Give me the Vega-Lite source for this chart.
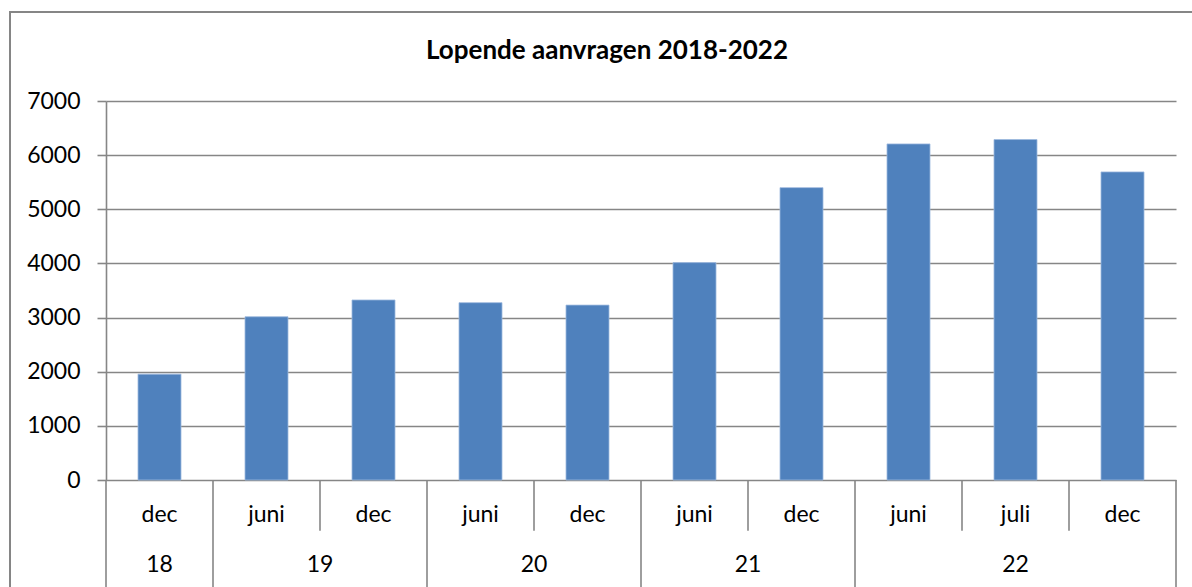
{
  "$schema": "https://vega.github.io/schema/vega-lite/v6.json",
  "autosize": "none",
  "width": 1070,
  "height": 379,
  "padding": {"left": 106, "top": 101, "right": 16, "bottom": 107},
  "background": "white",
  "config": {"view": {"stroke": null}, "font": "Lato"},
  "title": {"text": "Lopende aanvragen 2018-2022", "font": "Lato", "fontWeight": "bold", "fontSize": 26, "color": "#000000", "anchor": "middle", "frame": "group", "dx": -34, "offset": -74, "baseline": "alphabetic"},
  "data": {"values": [
    {"i": 0, "month": "dec", "year": "18", "value": 1955},
    {"i": 1, "month": "juni", "year": "19", "value": 3015},
    {"i": 2, "month": "dec", "year": "19", "value": 3325},
    {"i": 3, "month": "juni", "year": "20", "value": 3275},
    {"i": 4, "month": "dec", "year": "20", "value": 3230},
    {"i": 5, "month": "juni", "year": "21", "value": 4015},
    {"i": 6, "month": "dec", "year": "21", "value": 5400},
    {"i": 7, "month": "juni", "year": "22", "value": 6207},
    {"i": 8, "month": "juli", "year": "22", "value": 6288},
    {"i": 9, "month": "dec", "year": "22", "value": 5690}
  ]},
  "layer": [
    {
      "mark": {"type": "rect", "fill": null, "filled": false, "stroke": "#868686", "strokeWidth": 1.5},
      "encoding": {
        "x": {"datum": -1.397, "type": "quantitative", "scale": {"domain": [-0.5, 9.5], "nice": false, "zero": false, "padding": 0}, "axis": null},
        "x2": {"datum": 9.9},
        "y": {"datum": 8644, "type": "quantitative"},
        "y2": {"datum": -2400}
      }
    },
    {
      "mark": {"type": "bar", "width": 43, "color": "#4F81BD", "stroke": "#9DB9DE", "strokeWidth": 0.8},
      "encoding": {
        "x": {"field": "i", "type": "quantitative", "scale": {"domain": [-0.5, 9.5], "nice": false, "zero": false, "padding": 0}, "axis": null},
        "y": {"field": "value", "type": "quantitative", "scale": {"domain": [0, 7000], "nice": false, "padding": 0}, "axis": {"title": null, "values": [0, 1000, 2000, 3000, 4000, 5000, 6000, 7000], "grid": true, "gridColor": "#868686", "gridWidth": 1.6, "domainColor": "#868686", "domainWidth": 1.6, "tickColor": "#868686", "tickWidth": 1.6, "tickSize": 9, "labelFont": "Lato", "labelFontSize": 23, "labelColor": "#000000", "labelPadding": 17, "format": "d", "zindex": 0}}
      }
    },
    {
      "transform": [
        {"window": [{"op": "row_number", "as": "rn"}], "groupby": ["year"], "sort": [{"field": "i"}]},
        {"filter": "datum.rn > 1"}
      ],
      "mark": {"type": "rule", "color": "#868686", "strokeWidth": 1.6, "xOffset": -53.5},
      "encoding": {
        "x": {"field": "i", "type": "quantitative"},
        "y": {"datum": 0, "type": "quantitative"},
        "y2": {"datum": -936}
      }
    },
    {
      "transform": [
        {"window": [{"op": "row_number", "as": "rn"}], "groupby": ["year"], "sort": [{"field": "i"}]},
        {"filter": "datum.rn == 1"}
      ],
      "mark": {"type": "rule", "color": "#868686", "strokeWidth": 1.6, "xOffset": -53.5},
      "encoding": {
        "x": {"field": "i", "type": "quantitative"},
        "y": {"datum": 0, "type": "quantitative"},
        "y2": {"datum": -2400}
      }
    },
    {
      "transform": [{"filter": "datum.i == 9"}],
      "mark": {"type": "rule", "color": "#868686", "strokeWidth": 1.6, "xOffset": 53.5},
      "encoding": {
        "x": {"field": "i", "type": "quantitative"},
        "y": {"datum": 0, "type": "quantitative"},
        "y2": {"datum": -2400}
      }
    },
    {
      "mark": {"type": "text", "font": "Lato", "fontSize": 23, "color": "#000000", "baseline": "middle", "align": "center"},
      "encoding": {
        "x": {"field": "i", "type": "quantitative"},
        "y": {"datum": -646, "type": "quantitative"},
        "text": {"field": "month"}
      }
    },
    {
      "transform": [{"aggregate": [{"op": "mean", "field": "i", "as": "center"}], "groupby": ["year"]}],
      "mark": {"type": "text", "font": "Lato", "fontSize": 23, "color": "#000000", "baseline": "middle", "align": "center"},
      "encoding": {
        "x": {"field": "center", "type": "quantitative"},
        "y": {"datum": -1570, "type": "quantitative"},
        "text": {"field": "year"}
      }
    }
  ]
}
